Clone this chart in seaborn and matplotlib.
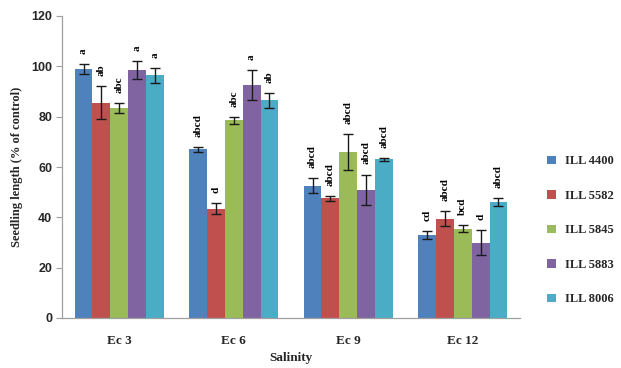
import numpy as np
import pandas as pd
import matplotlib
matplotlib.use("Agg")
import matplotlib.pyplot as plt
import seaborn as sns

categories = ["Ec 3", "Ec 6", "Ec 9", "Ec 12"]
varieties = ["ILL 4400", "ILL 5582", "ILL 5845", "ILL 5883", "ILL 8006"]
values = {
    "ILL 4400": [99.0, 67.0, 52.5, 33.0],
    "ILL 5582": [85.5, 43.5, 47.5, 39.5],
    "ILL 5845": [83.5, 78.5, 66.0, 35.5],
    "ILL 5883": [98.5, 92.5, 51.0, 30.0],
    "ILL 8006": [96.5, 86.5, 63.0, 46.0],
}
errors = {
    "ILL 4400": [2.0, 1.0, 3.0, 1.5],
    "ILL 5582": [6.5, 2.0, 1.0, 3.0],
    "ILL 5845": [2.0, 1.5, 7.0, 1.5],
    "ILL 5883": [3.5, 6.0, 6.0, 5.0],
    "ILL 8006": [3.0, 3.0, 0.5, 1.5],
}
letters = {
    "ILL 4400": ["a", "abcd", "abcd", "cd"],
    "ILL 5582": ["ab", "d", "abcd", "abcd"],
    "ILL 5845": ["abc", "abc", "abcd", "bcd"],
    "ILL 5883": ["a", "a", "abcd", "d"],
    "ILL 8006": ["a", "ab", "abcd", "abcd"],
}
colors = ["#4F81BD", "#C0504D", "#9BBB59", "#8064A2", "#4BACC6"]
yticks = [0, 20, 40, 60, 80, 100, 120]

rows = []
for v in varieties:
    for c, val in zip(categories, values[v]):
        rows.append({"Salinity": c, "Variety": v, "Value": val})
df = pd.DataFrame(rows)

sns.set_theme(style="white")
plt.rcParams["font.family"] = ["Liberation Serif", "DejaVu Serif"]

fig = plt.figure(figsize=(6.21, 3.68), dpi=100)
ax = fig.add_axes([62/621, 1-318/368, (520-62)/621, (318-16)/368])

sns.barplot(data=df, x="Salinity", y="Value", hue="Variety", order=categories,
            hue_order=varieties, palette=colors, errorbar=None, width=0.78,
            saturation=1, linewidth=0, ax=ax)

serif_bold = dict(family=["Liberation Serif", "DejaVu Serif"], weight="bold")
for cont, v in zip(ax.containers, varieties):
    xs = [p.get_x() + p.get_width()/2 for p in cont.patches]
    ax.errorbar(xs, values[v], yerr=errors[v], fmt="none", ecolor="#1a1a1a",
                elinewidth=1.0, capsize=3.5, capthick=1.0, zorder=5)
    for x, val, e, lab in zip(xs, values[v], errors[v], letters[v]):
        ax.text(x, val + e + 4, lab, rotation=90, ha="center", va="bottom",
                fontsize=8, color="black", **serif_bold)

ax.set_ylim(0, 120)
ax.set_xlim(-0.5, len(categories) - 0.5)
ax.set_yticks(yticks)
ax.set_yticklabels([str(t) for t in yticks], fontsize=9, fontweight="bold",
                   family=["Liberation Sans", "DejaVu Sans"])
ax.set_xticks(range(len(categories)))
ax.set_xticklabels(categories, fontsize=9.5, **serif_bold)
ax.set_xticks(np.arange(-0.5, len(categories)), minor=True)
ax.tick_params(axis="x", which="major", length=0, pad=12)
ax.tick_params(axis="x", which="minor", length=4, color="#a0a0a0", width=0.8)
ax.tick_params(axis="y", which="major", length=4, color="#a0a0a0", width=0.8, left=True, pad=3)

for s in ["top", "right"]:
    ax.spines[s].set_visible(False)
for s in ["left", "bottom"]:
    ax.spines[s].set_color("#a0a0a0")
    ax.spines[s].set_linewidth(0.9)

ax.set_xlabel("Salinity", fontsize=9.5, labelpad=4, **serif_bold)
ax.set_ylabel("Seedling length (% of control)", fontsize=9, labelpad=6, **serif_bold)

leg = ax.legend(loc="center left", bbox_to_anchor=(1.035, 0.29), frameon=False,
                prop=dict(family=["Liberation Serif", "DejaVu Serif"], weight="bold", size=9),
                handlelength=0.7, handleheight=0.7, handletextpad=0.7, labelspacing=1.8)

fig.savefig("out.png", dpi=100)
